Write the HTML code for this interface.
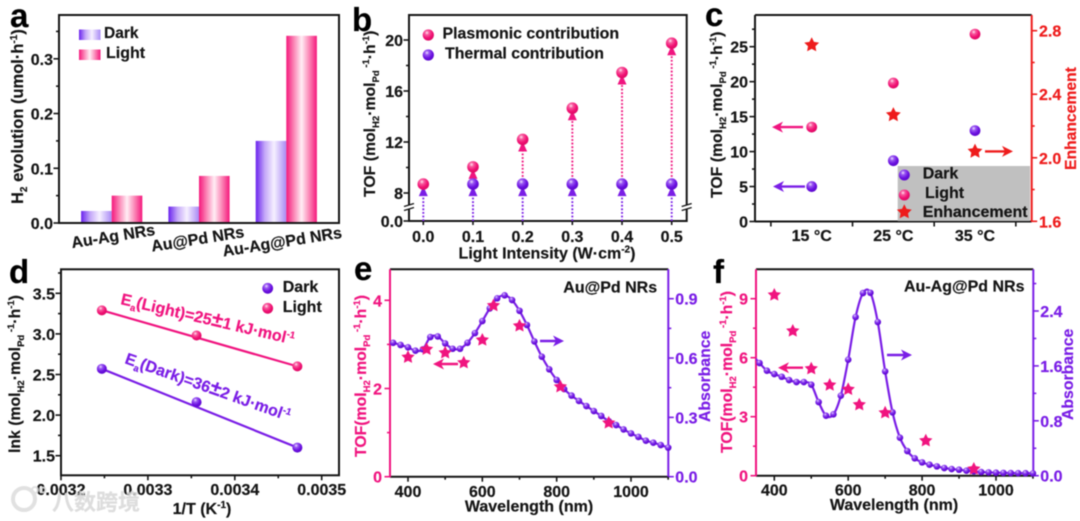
<!DOCTYPE html>
<html lang="en">
<head>
<meta charset="utf-8">
<title>Photocatalysis figure panels a-f</title>
<style>
html,body{margin:0;padding:0;background:#fff;width:1080px;height:521px;overflow:hidden}
svg{display:block;filter:blur(.4px)}
text{font-family:"Liberation Sans","Noto Sans CJK SC",sans-serif;font-weight:bold;fill:#151515;stroke:#151515;stroke-width:.2px;font-size:16px}
.letter{font-size:33px;fill:#000;stroke:#000}
.pink{fill:#f0147f;stroke:#f0147f}.purple{fill:#7a1ee6;stroke:#7a1ee6}.red{fill:#ee1c1c;stroke:#ee1c1c}
</style>
</head>
<body>
<svg id="figure" xmlns="http://www.w3.org/2000/svg" width="1080" height="521" viewBox="0 0 1080 521">
<defs>
<radialGradient id="sphere-purple" cx=".38" cy=".3" r=".75"><stop offset="0" stop-color="#efe4ff"/><stop offset=".25" stop-color="#9a58f2"/><stop offset=".65" stop-color="#6a10e0"/><stop offset="1" stop-color="#5a08c8"/></radialGradient>
<radialGradient id="sphere-pink" cx=".38" cy=".3" r=".75"><stop offset="0" stop-color="#ffe8f2"/><stop offset=".25" stop-color="#f85a9e"/><stop offset=".65" stop-color="#f00f72"/><stop offset="1" stop-color="#d80a62"/></radialGradient>
<linearGradient id="bar-dark-fill" x1="0" x2="1" y1="0" y2="0"><stop offset="0" stop-color="#6a22ee"/><stop offset=".3" stop-color="#c4a8f8"/><stop offset=".6" stop-color="#f6f0ff"/><stop offset="1" stop-color="#a98af5"/></linearGradient>
<linearGradient id="bar-light-fill" x1="0" x2="1" y1="0" y2="0"><stop offset="0" stop-color="#f5187c"/><stop offset=".25" stop-color="#fb86b6"/><stop offset=".5" stop-color="#ffeef5"/><stop offset=".75" stop-color="#fb86b6"/><stop offset="1" stop-color="#f5187c"/></linearGradient>
<clipPath id="clip-e"><rect x="390" y="265" width="282" height="215"/></clipPath>
<clipPath id="clip-f"><rect x="756" y="265" width="281" height="215"/></clipPath>
</defs>

<g id="panel-a">
  <g id="a-marks"></g>
  <text class="letter" x="10" y="27">a</text>
  <text transform="translate(23,204) rotate(-90)" style="font-size:16.5px">H<tspan dy="4" style="font-size:10px">2</tspan><tspan dy="-4"> evolution (umol·h</tspan><tspan dy="-6" style="font-size:10px">-1</tspan><tspan dy="6">)</tspan></text>
  <rect x="79" y="29.5" width="21.5" height="10.5" fill="url(#bar-dark-fill)"/>
  <rect x="79" y="49.5" width="21.5" height="10.5" fill="url(#bar-light-fill)"/>
  <text x="104" y="38" style="font-size:15.5px">Dark</text>
  <text x="106" y="58">Light</text>
</g>

<g id="panel-b">
  <g id="b-marks"></g>
  <text class="letter" x="352" y="31">b</text>
  <text transform="translate(375,197) rotate(-90)" style="font-size:15.8px">TOF (mol<tspan dy="4" style="font-size:9.5px">H2</tspan><tspan dy="-4">·mol</tspan><tspan dy="4" style="font-size:9.5px">Pd</tspan><tspan dy="-10" style="font-size:9.5px"> -1</tspan><tspan dy="6">·h</tspan><tspan dy="-6" style="font-size:9.5px">-1</tspan><tspan dy="6">)</tspan></text>
  <text x="547" y="258.5" text-anchor="middle">Light Intensity (W·cm<tspan dy="-6" style="font-size:10px">-2</tspan><tspan dy="6">)</tspan></text>
  <circle cx="428.3" cy="35" r="5.6" fill="url(#sphere-pink)"/>
  <circle cx="428.3" cy="55" r="5.6" fill="url(#sphere-purple)"/>
  <text x="442.5" y="38.5" style="font-size:15.9px">Plasmonic contribution</text>
  <text x="445" y="58.5" style="font-size:15.9px">Thermal contribution</text>
</g>

<g id="panel-c">
  <g id="c-marks"></g>
  <text class="letter" x="705" y="26">c</text>
  <text transform="translate(722,198) rotate(-90)" style="font-size:15.8px">TOF (mol<tspan dy="4" style="font-size:9.5px">H2</tspan><tspan dy="-4">·mol</tspan><tspan dy="4" style="font-size:9.5px">Pd</tspan><tspan dy="-10" style="font-size:9.5px"> -1</tspan><tspan dy="6">·h</tspan><tspan dy="-6" style="font-size:9.5px">-1</tspan><tspan dy="6">)</tspan></text>
  <text class="red" transform="translate(1076,170) rotate(-90)" style="font-size:15.7px">Enhancement</text>
  <rect x="897.7" y="166" width="132.3" height="55" fill="#c0c0c0"/>
  <circle cx="904.3" cy="175" r="5.5" fill="url(#sphere-purple)"/>
  <circle cx="904.3" cy="195" r="5.5" fill="url(#sphere-pink)"/>
  <g id="c-legend-star"></g>
  <text x="922.7" y="178.5">Dark</text>
  <text x="925" y="198">Light</text>
  <text x="922.7" y="217">Enhancement</text>
</g>

<g id="panel-d">
  <g id="d-marks"></g>
  <text class="letter" x="9" y="283">d</text>
  <text transform="translate(20,453) rotate(-90)" style="font-size:15.8px">lnk (mol<tspan dy="4" style="font-size:9.5px">H2</tspan><tspan dy="-4">·mol</tspan><tspan dy="4" style="font-size:9.5px">Pd</tspan><tspan dy="-10" style="font-size:9.5px"> -1</tspan><tspan dy="6">·h</tspan><tspan dy="-6" style="font-size:9.5px">-1</tspan><tspan dy="6">)</tspan></text>
  <text x="202" y="514" text-anchor="middle">1/T (K<tspan dy="-6" style="font-size:10px">-1</tspan><tspan dy="6">)</tspan></text>
  <circle cx="267.7" cy="288.3" r="5.4" fill="url(#sphere-purple)"/>
  <circle cx="267.7" cy="308.3" r="5.4" fill="url(#sphere-pink)"/>
  <text x="282.7" y="292">Dark</text>
  <text x="282.7" y="312">Light</text>
  <text class="pink" transform="translate(120,304) rotate(13.2)" style="font-size:16px">E<tspan dy="4" style="font-size:9.5px">a</tspan><tspan dy="-4">(Light)=25</tspan><tspan style="font-size:21px;stroke-width:.1px">±</tspan><tspan>1 kJ·mol</tspan><tspan dy="-6" style="font-size:9.5px">-1</tspan></text>
  <text class="purple" transform="translate(124,363) rotate(19.5)" style="font-size:16px">E<tspan dy="4" style="font-size:9.5px">a</tspan><tspan dy="-4">(Dark)=36</tspan><tspan style="font-size:21px;stroke-width:.1px">±</tspan><tspan>2 kJ·mol</tspan><tspan dy="-6" style="font-size:9.5px">-1</tspan></text>
</g>

<g id="panel-e">
  <g id="e-marks"></g>
  <text class="letter" x="354" y="280">e</text>
  <text class="pink" transform="translate(366,457) rotate(-90)" style="font-size:15.8px">TOF(mol<tspan dy="4" style="font-size:9.5px">H2</tspan><tspan dy="-4">·mol</tspan><tspan dy="4" style="font-size:9.5px">Pd</tspan><tspan dy="-10" style="font-size:9.5px"> -1</tspan><tspan dy="6">·h</tspan><tspan dy="-6" style="font-size:9.5px">-1</tspan><tspan dy="6">)</tspan></text>
  <text class="purple" transform="translate(710,422) rotate(-90)" style="font-size:15.8px">Absorbance</text>
  <text x="529" y="511.5" text-anchor="middle">Wavelength (nm)</text>
  <text x="563.3" y="292.3">Au@Pd NRs</text>
</g>

<g id="panel-f">
  <g id="f-marks"></g>
  <text class="letter" x="713" y="283">f</text>
  <text class="pink" transform="translate(732,453) rotate(-90)" style="font-size:15.8px">TOF(mol<tspan dy="4" style="font-size:9.5px">H2</tspan><tspan dy="-4">·mol</tspan><tspan dy="4" style="font-size:9.5px">Pd</tspan><tspan dy="-10" style="font-size:9.5px"> -1</tspan><tspan dy="6">·h</tspan><tspan dy="-6" style="font-size:9.5px">-1</tspan><tspan dy="6">)</tspan></text>
  <text class="purple" transform="translate(1073,420) rotate(-90)" style="font-size:15.8px">Absorbance</text>
  <text x="894" y="510" text-anchor="middle">Wavelength (nm)</text>
  <text x="904" y="291.7">Au-Ag@Pd NRs</text>
</g>

<g opacity=".85">
  <circle cx="24" cy="499" r="11" fill="none" stroke="#dcdcdc" stroke-width="4"/>
  <circle cx="35" cy="490" r="3" fill="none" stroke="#dcdcdc" stroke-width="2"/>
  <circle cx="43" cy="490" r="2.5" fill="none" stroke="#dcdcdc" stroke-width="2"/>
  <text x="52" y="510" style="font-size:22px;fill:#d8d8d8;stroke:#d8d8d8;font-family:'Noto Sans CJK SC',sans-serif">八数跨境</text>
</g>
</svg>

<script>
/* ---------- panel a data ---------- */
const catsA = ['Au-Ag NRs', 'Au@Pd NRs', 'Au-Ag@Pd NRs'];
const darkA = [0.022, 0.03, 0.15];
const lightA = [0.05, 0.086, 0.342];
const yTicksA = [0, 0.1, 0.2, 0.3];
const yMinorA = [0.05, 0.15, 0.25, 0.35];
const yLabelsA = ['0.0', '0.1', '0.2', '0.3'];
/* ---------- panel b data ---------- */
const intensityB = [0, 0.1, 0.2, 0.3, 0.4, 0.5];
const plasmonicB = [8.7, 10.05, 12.2, 14.65, 17.45, 19.75];
const thermalB = [8.7, 8.7, 8.7, 8.7, 8.7, 8.7];
const xLabelsB = ['0.0', '0.1', '0.2', '0.3', '0.4', '0.5'];
const yTicksB = [8, 12, 16, 20];
const yMinorB = [10, 14, 18];
const yLabelsB = ['8', '12', '16', '20'];
/* ---------- panel c data ---------- */
const tempsC = ['15 °C', '25 °C', '35 °C'];
const darkC = [5, 8.7, 13];
const lightC = [13.5, 19.8, 26.8];
const enhanceC = [2.71, 2.27, 2.04];
const yTicksC = [0, 5, 10, 15, 20, 25];
const yMinorC = [2.5, 7.5, 12.5, 17.5, 22.5, 27.5];
const yLabelsC = ['0', '5', '10', '15', '20', '25'];
const rTicksC = [1.6, 2.0, 2.4, 2.8];
const rMinorC = [1.8, 2.2, 2.6, 3.0];
const rLabelsC = ['1.6', '2.0', '2.4', '2.8'];
/* ---------- panel d data ---------- */
const invTD = [0.003247, 0.003356, 0.003472];
const lightD = [3.29, 2.98, 2.6];
const darkD = [2.57, 2.16, 1.6];
const xTicksD = [0.0032, 0.0033, 0.0034, 0.0035];
const xMinorD = [0.00325, 0.00335, 0.00345];
const xLabelsD = ['0.0032', '0.0033', '0.0034', '0.0035'];
const yTicksD = [1.5, 2, 2.5, 3, 3.5];
const yMinorD = [1.75, 2.25, 2.75, 3.25, 3.75];
const yLabelsD = ['1.5', '2.0', '2.5', '3.0', '3.5'];
/* ---------- panel e data ---------- */
const waveE = [340,360,380,400,420,440,460,480,500,520,540,560,580,600,620,640,660,680,700,720,740,760,780,800,820,840,860,880,900,920,940,960,980,1000,1020,1040,1060,1080,1100];
const absE = [0.688,0.677,0.666,0.654,0.637,0.644,0.706,0.709,0.674,0.647,0.647,0.677,0.726,0.787,0.851,0.902,0.917,0.893,0.839,0.767,0.684,0.607,0.543,0.489,0.443,0.410,0.383,0.357,0.332,0.307,0.281,0.261,0.239,0.219,0.201,0.182,0.172,0.160,0.147];
const starWaveE = [400,450,500,550,600,630,700,810,940];
const tofE = [2.71,2.89,2.81,2.585,3.10,3.88,3.42,2.04,1.22];
const xTicksE = [400,600,800,1000];
const xMinorE = [500,700,900,1100];
const xLabelsE = ['400','600','800','1000'];
const lTicksE = [0,2,4];
const lMinorE = [1,3];
const lLabelsE = ['0','2','4'];
const rTicksE = [0,0.3,0.6,0.9];
const rMinorE = [0.15,0.45,0.75,1.05];
const rLabelsE = ['0.0','0.3','0.6','0.9'];
/* ---------- panel f data ---------- */
const waveF = [340,360,380,400,420,440,460,480,500,520,540,560,580,600,620,640,660,680,700,720,740,760,780,800,820,840,860,880,900,920,940,960,980,1000,1020,1040,1060,1080,1100];
const absF = [1.76,1.642,1.530,1.481,1.442,1.394,1.365,1.365,1.326,1.073,0.874,0.894,1.166,1.690,2.312,2.662,2.666,2.239,1.520,0.923,0.554,0.359,0.253,0.194,0.160,0.136,0.112,0.097,0.087,0.073,0.063,0.053,0.048,0.044,0.041,0.039,0.037,0.036,0.034];
const starWaveF = [400,450,500,550,600,630,700,810,940];
const tofF = [9.19,7.36,5.44,4.61,4.39,3.61,3.2,1.78,0.34];
const xTicksF = [400,600,800,1000];
const xMinorF = [500,700,900,1100];
const xLabelsF = ['400','600','800','1000'];
const lTicksF = [0,3,6,9];
const lMinorF = [1.5,4.5,7.5,10.5];
const lLabelsF = ['0','3','6','9'];
const rTicksF = [0,0.8,1.6,2.4];
const rMinorF = [0.4,1.2,2.0,2.8];
const rLabelsF = ['0.0','0.8','1.6','2.4'];

/* ---------- colours ---------- */
const BLACK = '#151515', PINK = '#f0147f', PURPLE = '#7a1ee6', RED = '#ee1c1c';
const NS = 'http://www.w3.org/2000/svg';

/* ---------- helpers ---------- */
function make(parent, tag, name, props) {
  const el = document.createElementNS(NS, tag);
  
  
  for (const k in props) el.setAttribute(k, props[k]);
  parent.appendChild(el);
  return el;
}
function linear(d0, d1, r0, r1) {
  return v => r0 + (v - d0) * (r1 - r0) / (d1 - d0);
}
function seg(g, name, x1, y1, x2, y2, color, w) {
  return make(g, 'line', name, {x1, y1, x2, y2, stroke: color, 'stroke-width': w || 2});
}
function label(g, name, x, y, str, anchor, cls) {
  const t = make(g, 'text', name, {x, y, 'text-anchor': anchor});
  if (cls) t.setAttribute('class', cls);
  t.textContent = str;
  return t;
}
function vTicks(g, name, x, dir, vals, scale, len, color) {
  vals.forEach(v => seg(g, name, x, scale(v), x + dir * len, scale(v), color, 1.6));
}
function hTicks(g, name, y, vals, scale, len, color) {
  vals.forEach(v => seg(g, name, scale(v), y, scale(v), y + len, color, 1.6));
}
function sphere(g, name, cx, cy, r, kind) {
  return make(g, 'circle', name, {cx, cy, r, fill: 'url(#sphere-' + kind + ')'});
}
function star(g, name, cx, cy, r, color) {
  const pts = [];
  for (let i = 0; i < 10; i++) {
    const a = -Math.PI / 2 + i * Math.PI / 5;
    const rr = i % 2 ? r * 0.5 : r;
    pts.push((cx + rr * Math.cos(a)).toFixed(2) + ',' + (cy + rr * Math.sin(a)).toFixed(2));
  }
  return make(g, 'polygon', name, {points: pts.join(' '), fill: color});
}
function arrow(g, name, x1, y, x2, color) {
  const d = x2 > x1 ? 1 : -1;
  seg(g, name + '-shaft', x1, y, x2 - d * 5, y, color, 2.4);
  make(g, 'polygon', name + '-head', {
    points: x2 + ',' + y + ' ' + (x2 - d * 11) + ',' + (y - 5.5) + ' ' + (x2 - d * 8) + ',' + y + ' ' + (x2 - d * 11) + ',' + (y + 5.5),
    fill: color
  });
}
function smooth(pts) {
  let d = 'M' + pts[0][0].toFixed(2) + ' ' + pts[0][1].toFixed(2);
  for (let i = 0; i < pts.length - 1; i++) {
    const p0 = pts[Math.max(i - 1, 0)], p1 = pts[i], p2 = pts[i + 1], p3 = pts[Math.min(i + 2, pts.length - 1)];
    const c1x = p1[0] + (p2[0] - p0[0]) / 6, c1y = p1[1] + (p2[1] - p0[1]) / 6;
    const c2x = p2[0] - (p3[0] - p1[0]) / 6, c2y = p2[1] - (p3[1] - p1[1]) / 6;
    d += 'C' + c1x.toFixed(2) + ' ' + c1y.toFixed(2) + ' ' + c2x.toFixed(2) + ' ' + c2y.toFixed(2) + ' ' + p2[0].toFixed(2) + ' ' + p2[1].toFixed(2);
  }
  return d;
}

/* ---------- panel a ---------- */
(function () {
  const g = document.getElementById('a-marks');
  const y = linear(0, 0.38, 223, 15);
  const groupX = linear(0, 1, 111.7, 199);
  const labelX = linear(0, 1, 114, 198.5);
  const labelY = linear(0, 1, 241.5, 244.3);
  const barW = 30.6;
  catsA.forEach((c, i) => {
    const cx = groupX(i);
    make(g, 'rect', 'bar-dark-' + c, {x: cx - barW, y: y(darkA[i]), width: barW, height: y(0) - y(darkA[i]), fill: 'url(#bar-dark-fill)'});
    make(g, 'rect', 'bar-light-' + c, {x: cx, y: y(lightA[i]), width: barW, height: y(0) - y(lightA[i]), fill: 'url(#bar-light-fill)'});
    const t = make(g, 'text', 'category-label', {transform: 'translate(' + labelX(i) + ',' + labelY(i) + ') rotate(-9)', 'text-anchor': 'middle'});
    t.textContent = c;
  });
  make(g, 'rect', 'plot-frame-a', {x: 59, y: 15, width: 280, height: 208, fill: 'none', stroke: BLACK, 'stroke-width': 2});
  vTicks(g, 'y-tick-a', 59, -1, yTicksA, y, 5.5, BLACK);
  vTicks(g, 'y-minor-tick-a', 59, -1, yMinorA, y, 3, BLACK);
  yTicksA.forEach((v, i) => label(g, 'y-tick-label-a', 53, y(v) + 6, yLabelsA[i], 'end'));
})();

/* ---------- panel b ---------- */
(function () {
  const g = document.getElementById('b-marks');
  const x = linear(0, 0.5, 423.3, 671.7);
  const upper = linear(8, 20, 193, 40);
  const y = v => v < 8 ? 221 - v * 3.5 : upper(v);
  make(g, 'rect', 'plot-frame-b', {x: 409, y: 15, width: 277.7, height: 206, fill: 'none', stroke: BLACK, 'stroke-width': 2});
  [409, 686.7].forEach(bx => {
    make(g, 'rect', 'axis-break-gap', {x: bx - 4, y: 205.2, width: 8, height: 3.6, fill: '#fff'});
    seg(g, 'axis-break-mark', bx - 5, 206.5, bx + 5, 203.5, BLACK, 1.4);
    seg(g, 'axis-break-mark', bx - 5, 210.5, bx + 5, 207.5, BLACK, 1.4);
  });
  vTicks(g, 'y-tick-b', 409, -1, yTicksB.concat([0]), y, 5.5, BLACK);
  vTicks(g, 'y-minor-tick-b', 409, -1, yMinorB, y, 3, BLACK);
  yTicksB.forEach((v, i) => label(g, 'y-tick-label-b', 403, y(v) + 6, yLabelsB[i], 'end'));
  label(g, 'y-tick-label-b-zero', 403, 227, '0.0', 'end');
  hTicks(g, 'x-tick-b', 221, intensityB, x, 4, BLACK);
  intensityB.forEach((v, i) => {
    const px = x(v);
    const rising = plasmonicB[i] > thermalB[i] + 0.1;
    label(g, 'x-tick-label-b', px, 242, xLabelsB[i], 'middle');
    make(g, 'line', 'thermal-dotted-line', {x1: px, y1: y(0), x2: px, y2: y(thermalB[i]), stroke: PURPLE, 'stroke-width': 1.9, 'stroke-dasharray': '1.8 1.8'});
    if (rising) {
      make(g, 'line', 'plasmonic-dotted-line', {x1: px, y1: y(thermalB[i]), x2: px, y2: y(plasmonicB[i]), stroke: PINK, 'stroke-width': 1.9, 'stroke-dasharray': '1.8 1.8'});
      const py = y(plasmonicB[i]);
      make(g, 'polygon', 'plasmonic-arrowhead', {points: px + ',' + (py + 2) + ' ' + (px - 4.5) + ',' + (py + 12) + ' ' + (px + 4.5) + ',' + (py + 12), fill: PINK});
    }
    const ty = y(thermalB[i]);
    make(g, 'polygon', 'thermal-arrowhead', {points: px + ',' + (ty + 2) + ' ' + (px - 4.5) + ',' + (ty + 12) + ' ' + (px + 4.5) + ',' + (ty + 12), fill: PURPLE});
    if (rising) sphere(g, 'thermal-point', px, ty, 5.8, 'purple');
    sphere(g, 'plasmonic-point', px, y(plasmonicB[i]), 5.8, 'pink');
  });
})();

/* ---------- panel c ---------- */
(function () {
  const g = document.getElementById('c-marks');
  const x = linear(0, 2, 811.7, 975);
  const y = linear(0, 25, 221.5, 46.7);
  const r = linear(1.6, 2.8, 221.3, 30.7);
  seg(g, 'top-axis-c', 755, 15, 1031.7, 15, BLACK, 2);
  seg(g, 'left-axis-c', 755, 15, 755, 221.5, BLACK, 2);
  seg(g, 'bottom-axis-c', 755, 221.5, 1031.7, 221.5, BLACK, 2);
  seg(g, 'right-axis-c', 1031.7, 15, 1031.7, 222, RED, 2);
  vTicks(g, 'y-tick-c', 755, -1, yTicksC, y, 5.5, BLACK);
  vTicks(g, 'y-minor-tick-c', 755, -1, yMinorC, y, 3, BLACK);
  vTicks(g, 'right-tick-c', 1031.7, 1, rTicksC, r, 5.5, RED);
  vTicks(g, 'right-minor-tick-c', 1031.7, 1, rMinorC.filter(v => r(v) > 15), r, 3, RED);
  yTicksC.forEach((v, i) => label(g, 'y-tick-label-c', 748, y(v) + 6, yLabelsC[i], 'end'));
  rTicksC.forEach((v, i) => label(g, 'right-tick-label-c', 1039, r(v) + 6, rLabelsC[i], 'start', 'red'));
  hTicks(g, 'x-tick-c', 221.5, [-0.5, 0.5, 1.5, 2.5], x, 5, BLACK);
  tempsC.forEach((c, i) => {
    label(g, 'x-tick-label-c', x(i), 241, c, 'middle');
    sphere(g, 'dark-point-c', x(i), y(darkC[i]), 5.4, 'purple');
    sphere(g, 'light-point-c', x(i), y(lightC[i]), 5.4, 'pink');
    star(g, 'enhancement-star', x(i), r(enhanceC[i]), 7.8, RED);
  });
  arrow(g, 'arrow-light-left', 803, y(lightC[0]), 772, PINK);
  arrow(g, 'arrow-dark-left', 805, y(darkC[0]), 773, PURPLE);
  arrow(g, 'arrow-enhancement-right', 985, r(enhanceC[2]), 1013, RED);
  star(document.getElementById('c-legend-star'), 'legend-star', 904.3, 212, 7.8, RED);
})();

/* ---------- panel d ---------- */
(function () {
  const g = document.getElementById('d-marks');
  const x = linear(0.0032, 0.0035, 61, 321.7);
  const y = linear(1.5, 3.5, 455.7, 293.3);
  make(g, 'rect', 'plot-frame-d', {x: 61, y: 269.3, width: 278, height: 206, fill: 'none', stroke: BLACK, 'stroke-width': 2});
  vTicks(g, 'y-tick-d', 61, -1, yTicksD, y, 5.5, BLACK);
  vTicks(g, 'y-minor-tick-d', 61, -1, yMinorD, y, 3, BLACK);
  hTicks(g, 'x-tick-d', 475.3, xTicksD, x, 5, BLACK);
  hTicks(g, 'x-minor-tick-d', 475.3, xMinorD, x, 3, BLACK);
  yTicksD.forEach((v, i) => label(g, 'y-tick-label-d', 55, y(v) + 6, yLabelsD[i], 'end'));
  xTicksD.forEach((v, i) => label(g, 'x-tick-label-d', x(v), 495, xLabelsD[i], 'middle'));
  const last = invTD.length - 1;
  seg(g, 'fit-line-light', x(invTD[0]), y(lightD[0]), x(invTD[last]), y(lightD[last]), PINK, 2.2);
  seg(g, 'fit-line-dark', x(invTD[0]), y(darkD[0]), x(invTD[last]), y(darkD[last]), PURPLE, 2.2);
  invTD.forEach((t, i) => {
    sphere(g, 'light-point-d', x(t), y(lightD[i]), 5, 'pink');
    sphere(g, 'dark-point-d', x(t), y(darkD[i]), 5, 'purple');
  });
})();

/* ---------- spectra panels e and f ---------- */
function spectrum(cfg) {
  const g = document.getElementById(cfg.id + '-marks');
  const x = cfg.x, l = cfg.l, r = cfg.r, b = cfg.box;
  seg(g, 'top-axis-' + cfg.id, b.x0, b.y0, b.x1, b.y0, BLACK, 2);
  seg(g, 'bottom-axis-' + cfg.id, b.x0, b.y1, b.x1, b.y1, BLACK, 2);
  seg(g, 'left-axis-' + cfg.id, b.x0, b.y0, b.x0, b.y1 + 0.5, PINK, 2);
  seg(g, 'right-axis-' + cfg.id, b.x1, b.y0, b.x1, b.y1 + 0.5, PURPLE, 2);
  vTicks(g, 'left-tick-' + cfg.id, b.x0, -1, cfg.lTicks, l, 5.5, PINK);
  vTicks(g, 'left-minor-tick-' + cfg.id, b.x0, -1, cfg.lMinor.filter(v => l(v) > b.y0), l, 3, PINK);
  vTicks(g, 'right-tick-' + cfg.id, b.x1, 1, cfg.rTicks, r, 5.5, PURPLE);
  vTicks(g, 'right-minor-tick-' + cfg.id, b.x1, 1, cfg.rMinor.filter(v => r(v) > b.y0), r, 3, PURPLE);
  hTicks(g, 'x-tick-' + cfg.id, b.y1, cfg.xTicks, x, 5, BLACK);
  hTicks(g, 'x-minor-tick-' + cfg.id, b.y1, cfg.xMinor, x, 3, BLACK);
  cfg.lTicks.forEach((v, i) => label(g, 'left-tick-label-' + cfg.id, b.x0 - 8, l(v) + 6, cfg.lLabels[i], 'end', 'pink'));
  cfg.rTicks.forEach((v, i) => label(g, 'right-tick-label-' + cfg.id, b.x1 + 7, r(v) + 6, cfg.rLabels[i], 'start', 'purple'));
  cfg.xTicks.forEach((v, i) => label(g, 'x-tick-label-' + cfg.id, x(v), cfg.xLabelY, cfg.xLabels[i], 'middle'));
  const clip = make(g, 'g', 'absorbance-series-' + cfg.id, {'clip-path': 'url(#clip-' + cfg.id + ')'});
  const pts = cfg.wave.map((w, i) => [x(w), r(cfg.abs[i])]);
  make(clip, 'path', 'absorbance-line', {d: smooth(pts), fill: 'none', stroke: PURPLE, 'stroke-width': 2.2});
  pts.forEach(p => sphere(clip, 'absorbance-point', p[0], p[1], 3.3, 'purple'));
  cfg.starWave.forEach((w, i) => star(g, 'tof-star', x(w), l(cfg.tof[i]), 7, PINK));
  cfg.arrows.forEach(a => arrow(g, a[0], a[1], a[2], a[3], a[4]));
}
spectrum({
  id: 'e', box: {x0: 390, x1: 668.3, y0: 269.3, y1: 476.7},
  x: linear(400, 1000, 408, 631), l: linear(0, 4, 476.7, 300.3), r: linear(0, 0.9, 476.7, 298.7),
  wave: waveE, abs: absE, starWave: starWaveE, tof: tofE,
  xTicks: xTicksE, xMinor: xMinorE, xLabels: xLabelsE, xLabelY: 497,
  lTicks: lTicksE, lMinor: lMinorE, lLabels: lLabelsE,
  rTicks: rTicksE, rMinor: rMinorE, rLabels: rLabelsE,
  arrows: [['arrow-tof-left', 458, 364, 433, PINK], ['arrow-absorbance-right', 540, 341, 564, PURPLE]]
});
spectrum({
  id: 'f', box: {x0: 756, x1: 1033.3, y0: 269.3, y1: 475.7},
  x: linear(400, 1000, 774.3, 996), l: linear(0, 9, 475.7, 298.7), r: linear(0, 2.4, 475.7, 311),
  wave: waveF, abs: absF, starWave: starWaveF, tof: tofF,
  xTicks: xTicksF, xMinor: xMinorF, xLabels: xLabelsF, xLabelY: 495.5,
  lTicks: lTicksF, lMinor: lMinorF, lLabels: lLabelsF,
  rTicks: rTicksF, rMinor: rMinorF, rLabels: rLabelsF,
  arrows: [['arrow-tof-left', 803, 367.7, 778, PINK], ['arrow-absorbance-right', 887, 355, 912, PURPLE]]
});
</script>
</body>
</html>
